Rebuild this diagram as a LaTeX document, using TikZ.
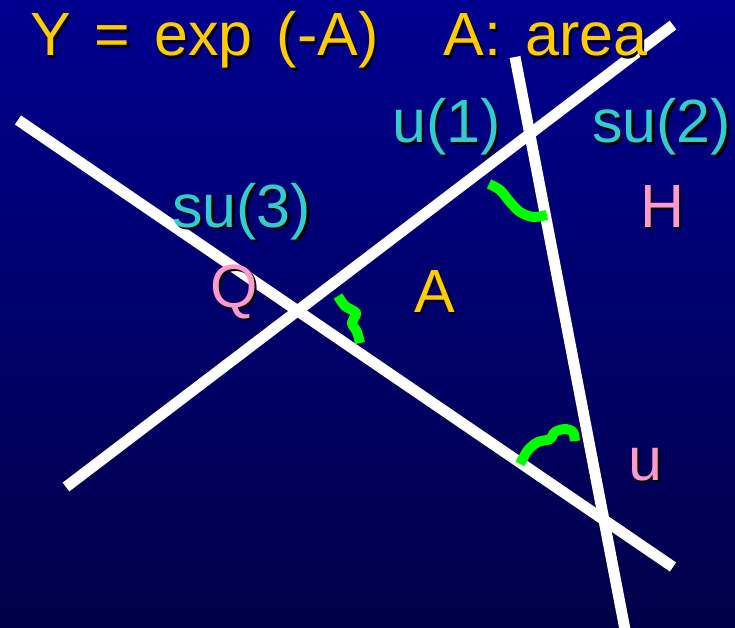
\documentclass[tikz,border=0pt]{standalone}
\usepackage{fontspec}
\setmainfont{Liberation Sans}
\usepackage{tikz}
\usetikzlibrary{calc}
\definecolor{bgTop}{HTML}{00008F}
\definecolor{bgBottom}{HTML}{000048}
\definecolor{titleYellow}{HTML}{FFCC00}
\definecolor{groupCyan}{HTML}{33CCCC}
\definecolor{fieldPink}{HTML}{FF99CC}
\definecolor{wiggleGreen}{HTML}{00FF00}
\newcommand{\shadowtext}[1]{\rlap{\textcolor{black}{\kern2.5pt\raisebox{-2.5pt}{#1}}}#1}

\begin{document}
\begin{tikzpicture}[x=1pt,y=-1pt,
    lbl/.style={anchor=base west,inner sep=0pt,font=\fontsize{61}{61}\selectfont},
    brane/.style={white,line width=11pt},
    wiggle/.style={wiggleGreen,line width=10pt,line join=round}]
    \useasboundingbox (0,0) rectangle (735,628);
    \shade[top color=bgTop,bottom color=bgBottom] (0,0) rectangle (735,628);
    % the three lines
    \coordinate (w1) at (18,120);  \coordinate (e1) at (673,567);
    \coordinate (w2) at (66,487);  \coordinate (e2) at (673,25);
    \coordinate (n3) at (515,57);  \coordinate (s3) at (627,640);
    \draw[brane] (w1)--(e1);
    \draw[brane] (w2)--(e2);
    \draw[brane] (n3)--(s3);
    % strings at the corners
    \draw[wiggle] plot[smooth] coordinates
      {(489,184) (500,190) (510,202) (520,212) (533,217) (547,215)};
    \draw[wiggle] plot[smooth] coordinates
      {(338,296) (345,306) (356,313) (352,323) (357,332) (360,343)};
    \draw[wiggle] plot[smooth] coordinates
      {(520,464) (528,450) (538,442) (550,439) (555,432) (565,429) (573,432) (575,441)};
    % labels
    \node[lbl,titleYellow] (title) at (30,56)
      {\spaceskip=24pt\shadowtext{Y = exp (-A)\hspace{65pt}A: area}};
    \node[lbl,groupCyan] (u1) at (392,143) {\shadowtext{u(1)}};
    \node[lbl,groupCyan] (su2) at (592,143) {\shadowtext{su(2)}};
    \node[lbl,groupCyan] (su3) at (172,227) {\shadowtext{su(3)}};
    \node[lbl,fieldPink] (H) at (640,227) {\shadowtext{H}};
    \node[lbl,fieldPink] (Q) at (210,307) {\shadowtext{Q}};
    \node[lbl,fieldPink] (u) at (628,480) {\shadowtext{u}};
    \node[lbl,titleYellow] (A) at (414,312) {\shadowtext{A}};
  \end{tikzpicture}
\end{document}
